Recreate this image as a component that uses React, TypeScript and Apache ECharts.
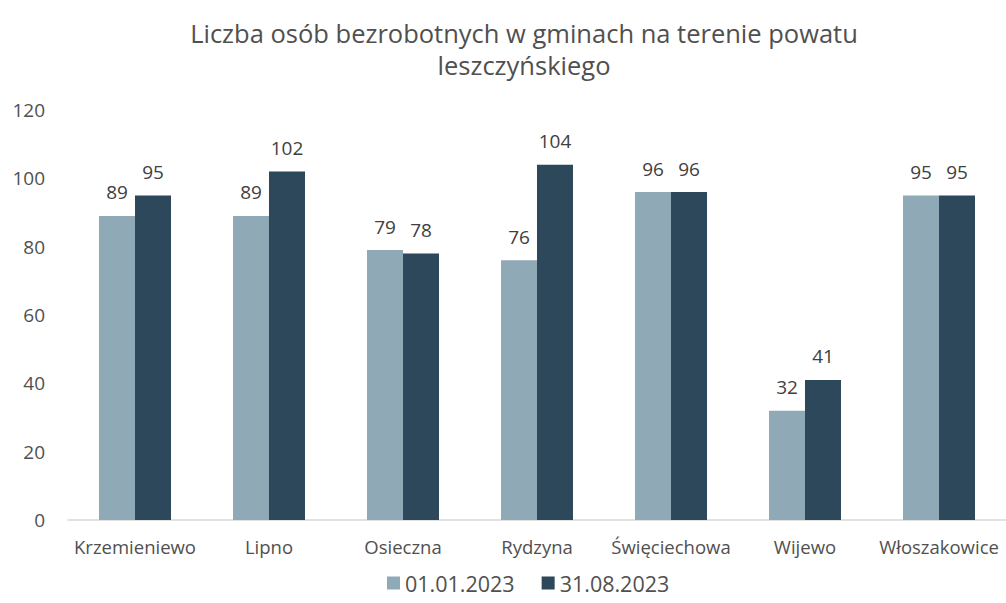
import React, { useEffect, useRef } from "react";
import * as echarts from "echarts";

const categories = ["Krzemieniewo", "Lipno", "Osieczna", "Rydzyna", "Święciechowa", "Wijewo", "Włoszakowice"];
const series2023Jan = [89, 89, 79, 76, 96, 32, 95];
const series2023Aug = [95, 102, 78, 104, 96, 41, 95];
const seriesNames = ["01.01.2023", "31.08.2023"];
const yTicks = { min: 0, max: 120, interval: 20 };

const FONT = "'Open Sans', sans-serif";

export default function App() {
  const ref = useRef<HTMLDivElement>(null);
  useEffect(() => {
    if (!ref.current) return;
    const chart = echarts.init(ref.current, null, { renderer: "svg" });
    chart.setOption({
      animation: false,
      backgroundColor: "#ffffff",
      title: {
        text: "Liczba osób bezrobotnych w gminach na terenie powatu\nleszczyńskiego",
        left: 519,
        textAlign: "center",
        top: 12,
        textStyle: {
          fontFamily: FONT,
          fontSize: 25.5,
          fontWeight: "normal",
          color: "#505050",
          lineHeight: 32,
        },
      },
      legend: {
        left: 382,
        top: 567,
        icon: "rect",
        itemWidth: 13,
        itemHeight: 13,
        itemGap: 27,
        textStyle: { fontFamily: FONT, fontSize: 21.5, color: "#505050" },
        data: seriesNames,
      },
      grid: { left: 68, right: -8, top: 110, bottom: 83, containLabel: false },
      xAxis: {
        type: "category",
        data: categories,
        axisLine: { lineStyle: { color: "#d9d9d9", width: 1.5 } },
        axisTick: { show: false },
        axisLabel: { interval: 0, fontFamily: FONT, fontSize: 18.5, color: "#505050", margin: 17 },
      },
      yAxis: {
        type: "value",
        min: yTicks.min,
        max: yTicks.max,
        interval: yTicks.interval,
        splitLine: { show: false },
        axisLine: { show: false },
        axisTick: { show: false },
        axisLabel: { fontFamily: FONT, fontSize: 19, color: "#505050", margin: 23 },
      },
      series: [
        {
          name: seriesNames[0],
          type: "bar",
          data: series2023Jan,
          barWidth: 36,
          barGap: "0%",
          itemStyle: { color: "#8fa9b7" },
          label: { show: true, position: "top", distance: 14, fontFamily: FONT, fontSize: 19, color: "#404040" },
        },
        {
          name: seriesNames[1],
          type: "bar",
          data: series2023Aug,
          barWidth: 36,
          barGap: "0%",
          itemStyle: { color: "#2d475b" },
          label: { show: true, position: "top", distance: 14, fontFamily: FONT, fontSize: 19, color: "#404040" },
        },
      ],
    });
    return () => chart.dispose();
  }, []);
  return <div ref={ref} style={{ width: 1006, height: 603, position: "absolute", left: 0, top: 0 }} />;
}
